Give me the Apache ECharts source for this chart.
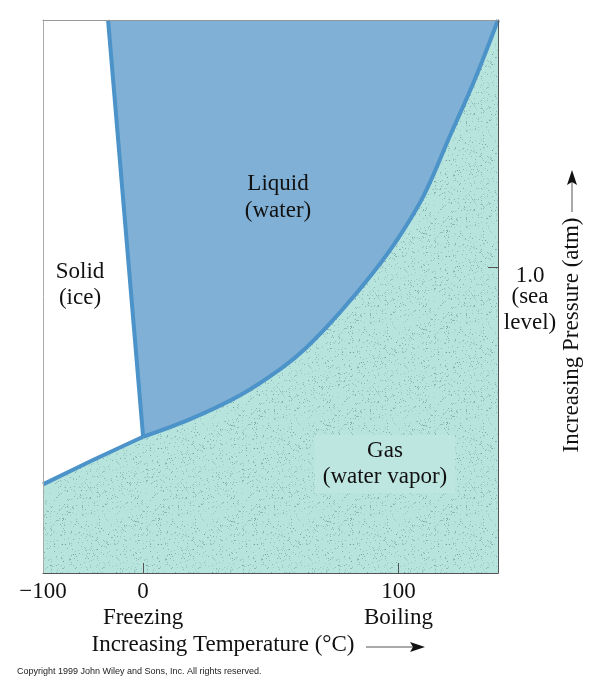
<!DOCTYPE html>
<html>
<head>
<meta charset="utf-8">
<script src="https://cdn.jsdelivr.net/npm/echarts@6/dist/echarts.min.js"></script>
<style>
  html, body { margin: 0; padding: 0; background: #fff; }
  #chart { width: 600px; height: 690px; }
</style>
</head>
<body>
<div id="chart"></div>
<script>
// Phase diagram of water (schematic). Temperatures in °C, pressure in atm-ish units.
const sublimationTemp = [-100, -50, 0];
const sublimationPres = [0.29, 0.37, 0.446];

const meltingTemp = [-35, 0];
const meltingPres = [1.81, 0.446];

const vaporTemp = [0, 18, 38, 54, 64, 77, 90, 100, 110, 120, 130, 139];
const vaporPres = [0.446, 0.502, 0.582, 0.669, 0.738, 0.852, 0.982, 1.097, 1.237, 1.427, 1.617, 1.81];

const tempTicks = [-100, 0, 100];
const tempTickNames = { '-100': '\u2212100', '0': '0\nFreezing', '100': '100\nBoiling' };
const pressureTicks = [1.0];

// the temperature axis is squeezed below 0 °C, like in the textbook figure
const BELOW_ZERO = 100 / 255;
function tempToAxis(t) { return t < 0 ? t * BELOW_ZERO : t; }
function axisToTemp(u) { return u < 0 ? Math.round(u / BELOW_ZERO) : Math.round(u); }

function pairs(xs, ys) {
    return xs.map((x, i) => [tempToAxis(x), ys[i]]);
}

// speckled texture for the gas region
function makeSpeckle() {
    const c = document.createElement('canvas');
    c.width = 96; c.height = 96;
    const ctx = c.getContext('2d');
    ctx.fillStyle = '#b8e4de';
    ctx.fillRect(0, 0, 96, 96);
    let seed = 12345;
    const rnd = () => { seed = (seed * 1103515245 + 12345) % 2147483648; return seed / 2147483648; };
    for (let i = 0; i < 750; i++) {
        const a = 0.15 + rnd() * 0.35;
        ctx.fillStyle = 'rgba(80,125,120,' + a.toFixed(2) + ')';
        ctx.fillRect(Math.floor(rnd() * 96), Math.floor(rnd() * 96), 1, 1);
    }
    return c;
}

const gasBoundary = pairs(sublimationTemp, sublimationPres).concat(pairs(vaporTemp, vaporPres).slice(1));
const liquidBoundary = pairs(meltingTemp, meltingPres).concat(pairs(vaporTemp, vaporPres).slice(1));

const serif = '"Liberation Serif", "DejaVu Serif", serif';
const lineColor = '#4b93c8';

function boundary(name, data, smooth) {
    return {
        name: name, type: 'line', data: data, symbol: 'none', smooth: smooth,
        lineStyle: { color: lineColor, width: 4, cap: 'butt', join: 'round' }, z: 5, silent: true
    };
}

const chart = echarts.init(document.getElementById('chart'));
chart.setOption({
    backgroundColor: '#fff',
    animation: false,
    grid: { left: 43, right: 102, top: 20, bottom: 117, show: false },
    xAxis: [{
        type: 'value',
        min: tempToAxis(-100),
        max: 139,
        z: 10,
        splitLine: { show: false },
        axisLine: { show: true, onZero: false, lineStyle: { color: '#555', width: 1 } },
        axisTick: { show: true, inside: true, length: 10, customValues: [0, 100], lineStyle: { color: '#555' } },
        axisLabel: {
            customValues: tempTicks.map(tempToAxis),
            formatter: v => tempTickNames[String(axisToTemp(v))],
            margin: 6,
            fontFamily: serif, fontSize: 23, lineHeight: 26, color: '#111'
        }
    }, {
        type: 'value', position: 'top', min: tempToAxis(-100), max: 139, z: 10,
        splitLine: { show: false }, axisTick: { show: false }, axisLabel: { show: false },
        axisLine: { show: true, onZero: false, lineStyle: { color: '#999' } }
    }],
    yAxis: [{
        type: 'value',
        position: 'right',
        min: 0,
        max: 1.81,
        z: 10,
        splitLine: { show: false },
        axisLine: { show: true, onZero: false, lineStyle: { color: '#555' } },
        axisTick: { show: true, inside: true, length: 10, customValues: pressureTicks, lineStyle: { color: '#555' } },
        axisLabel: {
            customValues: pressureTicks,
            formatter: () => '{a|1.0}\n{b|(sea}\n{b|level)}',
            align: 'center', verticalAlign: 'top', margin: 32,
            fontFamily: serif, fontSize: 23, color: '#111',
            rich: {
                a: { fontFamily: serif, fontSize: 23, lineHeight: 16, color: '#111', align: 'center' },
                b: { fontFamily: serif, fontSize: 23, lineHeight: 26, color: '#111', align: 'center' }
            }
        }
    }, {
        type: 'value', position: 'left', min: 0, max: 1.81, z: 10,
        splitLine: { show: false }, axisTick: { show: false }, axisLabel: { show: false },
        axisLine: { show: true, onZero: false, lineStyle: { color: '#aaa' } }
    }],
    series: [{
        name: 'Gas',
        type: 'line',
        data: gasBoundary,
        symbol: 'none',
        lineStyle: { width: 0 },
        areaStyle: { origin: 'start', opacity: 1, color: { image: makeSpeckle(), repeat: 'repeat' } },
        z: 2, silent: true
    }, {
        name: 'Liquid',
        type: 'line',
        data: liquidBoundary,
        symbol: 'none',
        lineStyle: { width: 0 },
        areaStyle: { origin: 'end', opacity: 1, color: '#80b0d5' },
        z: 3, silent: true
    },
        boundary('Sublimation', pairs(sublimationTemp, sublimationPres), false),
        boundary('Melting', pairs(meltingTemp, meltingPres), false),
        boundary('Vaporization', pairs(vaporTemp, vaporPres), 0.35)
    ],
    graphic: [
        { type: 'text', z: 20, style: { text: 'Solid\n(ice)', x: 80, y: 285, align: 'center', verticalAlign: 'middle', font: '23px ' + serif, lineHeight: 26, fill: '#111' } },
        { type: 'text', z: 20, style: { text: 'Liquid\n(water)', x: 278, y: 197, align: 'center', verticalAlign: 'middle', font: '23px ' + serif, lineHeight: 27, fill: '#111' } },
        { type: 'text', z: 20, style: { text: 'Gas\n(water vapor)', x: 385, y: 464, align: 'center', verticalAlign: 'middle', font: '23px ' + serif, lineHeight: 26, fill: '#111', backgroundColor: '#bde6e0', padding: [3, 8, 3, 8] } },
        // axis titles with arrows
        { type: 'text', z: 20, style: { text: 'Increasing Temperature (\u00B0C)', x: 223, y: 645, align: 'center', verticalAlign: 'middle', font: '23px ' + serif, fill: '#111' } },
        { type: 'line', z: 20, shape: { x1: 366, y1: 647, x2: 414, y2: 647 }, style: { stroke: '#aaa', lineWidth: 2 } },
        { type: 'polygon', z: 21, shape: { points: [[425, 647], [410, 642], [413, 647], [410, 652]] }, style: { fill: '#111' } },
        { type: 'text', z: 20, x: 572, y: 335, rotation: Math.PI / 2, style: { text: 'Increasing Pressure (atm)', x: 0, y: 0, align: 'center', verticalAlign: 'middle', font: '23px ' + serif, fill: '#111' } },
        { type: 'line', z: 20, shape: { x1: 572, y1: 212, x2: 572, y2: 182 }, style: { stroke: '#aaa', lineWidth: 2 } },
        { type: 'polygon', z: 21, shape: { points: [[572, 170], [567, 185], [572, 182], [577, 185]] }, style: { fill: '#111' } },
        { type: 'text', z: 20, style: { text: 'Copyright 1999 John Wiley and Sons, Inc. All rights reserved.', x: 17, y: 672, align: 'left', verticalAlign: 'middle', font: '9px "Liberation Sans", Arial, sans-serif', fill: '#222' } }
    ]
});
</script>
</body>
</html>
